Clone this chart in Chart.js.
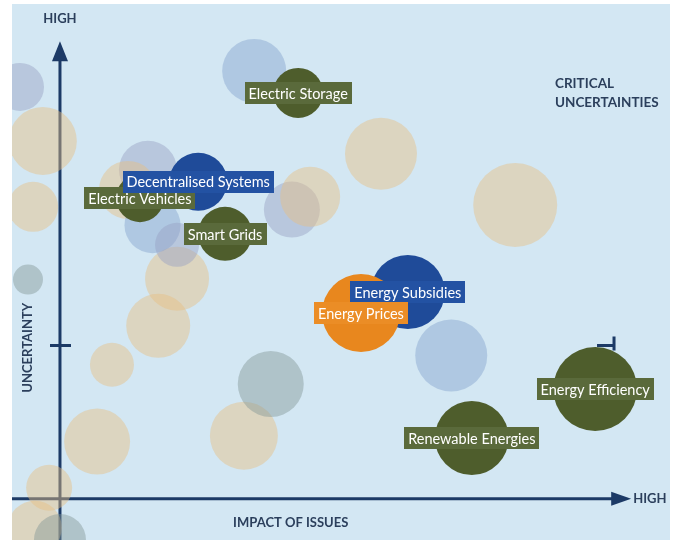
<!DOCTYPE html>
<html>
<head>
<meta charset="utf-8">
<script src="https://cdn.jsdelivr.net/npm/chart.js@4.4.1/dist/chart.umd.min.js"></script>
<style>
  html, body { margin: 0; padding: 0; background: #ffffff; }
  #chart { display: block; }
</style>
</head>
<body>
<canvas id="chart" width="674" height="540"></canvas>
<script>
// === Data: key issues (impact vs uncertainty, bubble radius) ===
const issueLabels = ['Electric Storage', 'Electric Vehicles', 'Decentralised Systems', 'Smart Grids',
  'Energy Subsidies', 'Energy Prices', 'Renewable Energies', 'Energy Efficiency'];
const issueImpact = [4.17, 1.40, 2.42, 2.89, 6.09, 5.27, 7.21, 9.37];
const issueUncertainty = [8.87, 6.57, 6.93, 5.79, 4.52, 4.06, 1.33, 2.40];
const issueSize = [25, 24, 29, 27, 37, 39, 37, 42];
const issueGroup = ['green', 'green', 'blue', 'green', 'blue', 'orange', 'green', 'green'];

// === Data: other (faded) issues ===
const otherImpact = [-0.70, -0.30, -0.47, -0.56, -0.19, -0.44, 0.00, 0.65, 0.91, 1.72, 2.05, 3.22,
  3.69, 6.85, 5.62, 7.97, 4.06, 4.38, 3.40, 1.54, 1.19, 1.62, 2.05];
const otherUncertainty = [9.00, 7.82, 6.38, 4.79, 0.24, -0.63, -0.90, 1.25, 2.93, 3.78, 4.81, 1.38,
  2.51, 3.13, 7.54, 6.42, 6.32, 6.60, 9.35, 7.19, 6.75, 5.98, 5.55];
const otherSize = [24, 34, 25, 15, 23, 27, 26, 33, 22, 32, 32, 34,
  33, 36, 36, 42, 28, 30, 32, 29, 29, 28, 22];
const otherGroup = ['lavender', 'tan', 'tan', 'teal', 'tan', 'tan', 'teal', 'tan', 'tan', 'tan', 'tan', 'tan',
  'teal', 'steel', 'tan', 'tan', 'lavender', 'tan', 'steel', 'lavender', 'tan', 'steel', 'lavender'];

// === Axis / annotation text ===
const yAxisTop = 'HIGH';
const xAxisEnd = 'HIGH';
const yAxisTitle = 'UNCERTAINTY';
const xAxisTitle = 'IMPACT OF ISSUES';
const cornerNote = ['CRITICAL', 'UNCERTAINTIES'];
const midTick = 3.35;

// === Colours ===
const strongColors = { green: '#4e5d2c', blue: '#1f4b99', orange: '#e8871e' };
const boxColors = { green: '#5a6a3b', blue: '#2352a3', orange: '#eb8d26' };
const fadedColors = {
  tan: 'rgba(230, 190, 130, 0.45)',
  teal: 'rgba(130, 150, 150, 0.45)',
  steel: 'rgba(140, 170, 210, 0.5)',
  lavender: 'rgba(150, 160, 195, 0.45)',
};
const axisColor = '#1c3a66';
const textColor = '#2b3f5c';
const panelColor = '#d3e7f3';

const toPoints = (xs, ys, rs) => xs.map((x, i) => ({ x, y: ys[i], r: rs[i] }));

// === Plugin: background panel, axes, texts ===
const panelClip = { left: -12, top: -4, right: -4, bottom: 0 };

const decorPlugin = {
  id: 'decor',
  beforeDatasetsDraw(chart) {
    const { ctx, chartArea, scales: { x, y } } = chart;
    ctx.save();
    // panel
    ctx.fillStyle = panelColor;
    ctx.fillRect(chartArea.left - panelClip.left, chartArea.top - panelClip.top,
      chartArea.width + panelClip.left + panelClip.right, chartArea.height + panelClip.top + panelClip.bottom);

    const x0 = x.getPixelForValue(0);
    const y0 = y.getPixelForValue(0);
    const xEnd = x.getPixelForValue(10);
    const yEnd = y.getPixelForValue(10);

    ctx.strokeStyle = axisColor;
    ctx.fillStyle = axisColor;
    ctx.lineWidth = 3;
    // y axis
    ctx.beginPath();
    ctx.moveTo(x0, chartArea.bottom);
    ctx.lineTo(x0, yEnd + 10);
    ctx.stroke();
    ctx.beginPath();
    ctx.moveTo(x0, yEnd);
    ctx.lineTo(x0 - 8, yEnd + 20);
    ctx.lineTo(x0 + 8, yEnd + 20);
    ctx.closePath();
    ctx.fill();
    // x axis
    ctx.beginPath();
    ctx.moveTo(chartArea.left + 12, y0);
    ctx.lineTo(xEnd - 10, y0);
    ctx.stroke();
    ctx.beginPath();
    ctx.moveTo(xEnd, y0);
    ctx.lineTo(xEnd - 20, y0 - 7);
    ctx.lineTo(xEnd - 20, y0 + 7);
    ctx.closePath();
    ctx.fill();
    // mid tick on y axis
    const yMid = y.getPixelForValue(midTick);
    ctx.beginPath();
    ctx.moveTo(x0 - 10, yMid);
    ctx.lineTo(x0 + 11, yMid);
    ctx.stroke();
    // mid marker on right side
    const xr = x.getPixelForValue(9.7);
    ctx.beginPath();
    ctx.moveTo(xr - 17, yMid);
    ctx.lineTo(xr, yMid);
    ctx.moveTo(xr, yMid - 9);
    ctx.lineTo(xr, yMid + 5);
    ctx.stroke();
    ctx.restore();
  },
  afterDatasetsDraw(chart) {
    const { ctx, scales: { x, y } } = chart;
    ctx.save();
    // issue labels
    const meta = chart.getDatasetMeta(1);
    ctx.font = '14.5px Lato, "Open Sans", sans-serif';
    ctx.textAlign = 'center';
    ctx.textBaseline = 'middle';
    meta.data.forEach((el, i) => {
      const text = issueLabels[i];
      const w = ctx.measureText(text).width + 8;
      const h = 22;
      ctx.fillStyle = boxColors[issueGroup[i]];
      ctx.fillRect(Math.round(el.x - w / 2), Math.round(el.y - h / 2), Math.round(w), h);
      ctx.fillStyle = '#ffffff';
      ctx.fillText(text, el.x, el.y + 1);
    });

    // axis texts
    ctx.fillStyle = textColor;
    ctx.font = 'bold 13px Lato, "Open Sans", sans-serif';
    ctx.textAlign = 'center';
    ctx.fillText(yAxisTop, x.getPixelForValue(0), 19);
    ctx.fillText(xAxisTitle, x.getPixelForValue(4.04), 523);
    ctx.textAlign = 'left';
    ctx.fillText(xAxisEnd, x.getPixelForValue(10) + 2, y.getPixelForValue(0));
    ctx.font = 'bold 13.5px Lato, "Open Sans", sans-serif';
    ctx.fillText(cornerNote[0], 555, 84);
    ctx.fillText(cornerNote[1], 555, 103);
    // rotated y title
    ctx.font = 'bold 13px Lato, "Open Sans", sans-serif';
    ctx.translate(28, y.getPixelForValue(3.3));
    ctx.rotate(-Math.PI / 2);
    ctx.textAlign = 'center';
    ctx.fillText(yAxisTitle, 0, 0);
    ctx.restore();
  }
};

// === Chart ===
new Chart(document.getElementById('chart'), {
  type: 'bubble',
  data: {
    datasets: [
      {
        label: 'Other issues',
        data: toPoints(otherImpact, otherUncertainty, otherSize),
        backgroundColor: otherGroup.map(g => fadedColors[g]),
        borderWidth: 0,
        clip: panelClip,
        order: 1,
      },
      {
        label: 'Key issues',
        data: toPoints(issueImpact, issueUncertainty, issueSize),
        backgroundColor: issueGroup.map(g => strongColors[g]),
        borderWidth: 0,
        clip: panelClip,
        order: 0,
      },
    ],
  },
  options: {
    responsive: false,
    animation: false,
    devicePixelRatio: 1,
    layout: { autoPadding: false, padding: 0 },
    scales: {
      x: { type: 'linear', min: -1.05, max: 10.75, display: false },
      y: { type: 'linear', min: -0.9, max: 10.9, display: false },
    },
    plugins: {
      legend: { display: false },
      tooltip: { enabled: false },
    },
    events: [],
  },
  plugins: [decorPlugin],
});
</script>
</body>
</html>
